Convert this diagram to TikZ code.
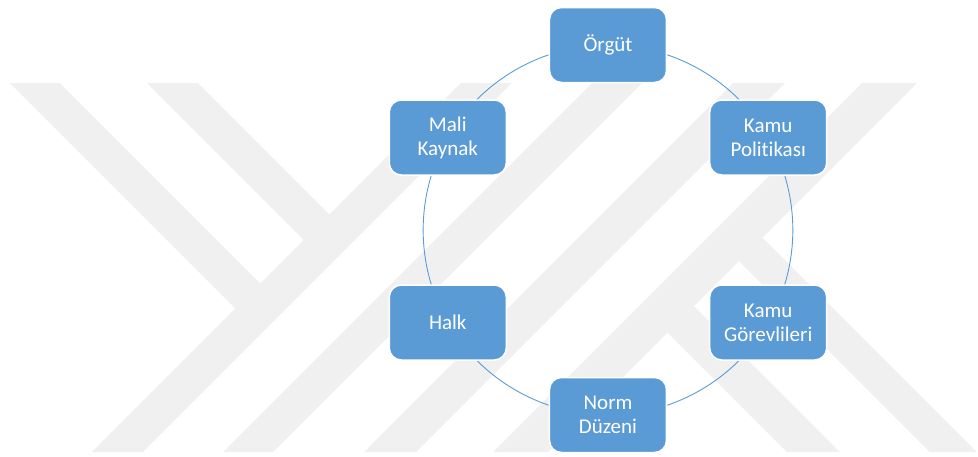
\documentclass[tikz,border=0pt]{standalone}
\usepackage{fontspec}
\setmainfont{Carlito}[RawFeature={-liga}]
\usetikzlibrary{backgrounds}
\definecolor{kutumavi}{HTML}{5B9BD5}
\definecolor{filigran}{HTML}{F0F0F0}

\begin{document}
\begin{tikzpicture}[x=1pt, y=1pt,
        kutu/.style={rectangle, rounded corners=12pt, fill=kutumavi, draw=white, line width=1.5pt,
            minimum width=117pt, minimum height=75pt, inner sep=0pt, align=center, text=white,
            font=\fontsize{21}{24}\selectfont},
        halka/.style={draw=kutumavi, line width=0.9pt, bend left=30, looseness=0.91}]
        \useasboundingbox (-608,-226) rectangle (370,230);
        \foreach \ac/\ad/\yazi in {90/org/{Örgüt}, 30/pol/{Kamu\\Politikası}, -30/gor/{Kamu\\Görevlileri},
                -90/norm/{Norm\\Düzeni}, 210/halk/{Halk}, 150/mali/{Mali\\Kaynak}}
            \node[kutu] (\ad) at (\ac:185) {\yazi};
        \begin{pgfonlayer}{background}
            % filigran
            \begin{scope}[shift={(-608,230)}, yscale=-1]
                \fill[filigran] (461,83) -- (512,83) -- (143,452) -- (92,452) -- cycle;
                \fill[filigran] (592,83) -- (642,83) -- (273,452) -- (223,452) -- cycle;
                \fill[filigran] (733,83) -- (785,83) -- (416,452) -- (364,452) -- cycle;
                \fill[filigran] (862,83) -- (917,83) -- (548,452) -- (493,452) -- cycle;
                \fill[filigran] (10,83) -- (60,83) -- (268.5,291.5) -- (243.5,316.5) -- cycle;
                \fill[filigran] (147,83) -- (198,83) -- (337.5,222.5) -- (312,248) -- cycle;
                \fill[filigran] (660,325) -- (686.5,298.5) -- (840,452) -- (787,452) -- cycle;
                \fill[filigran] (731.5,253.5) -- (755,230) -- (977,452) -- (930,452) -- cycle;
            \end{scope}
            % halka
            \foreach \a/\b in {org/pol, pol/gor, gor/norm, norm/halk, halk/mali, mali/org}
                \draw[halka] (\a.center) to (\b.center);
        \end{pgfonlayer}
    \end{tikzpicture}
\end{document}
